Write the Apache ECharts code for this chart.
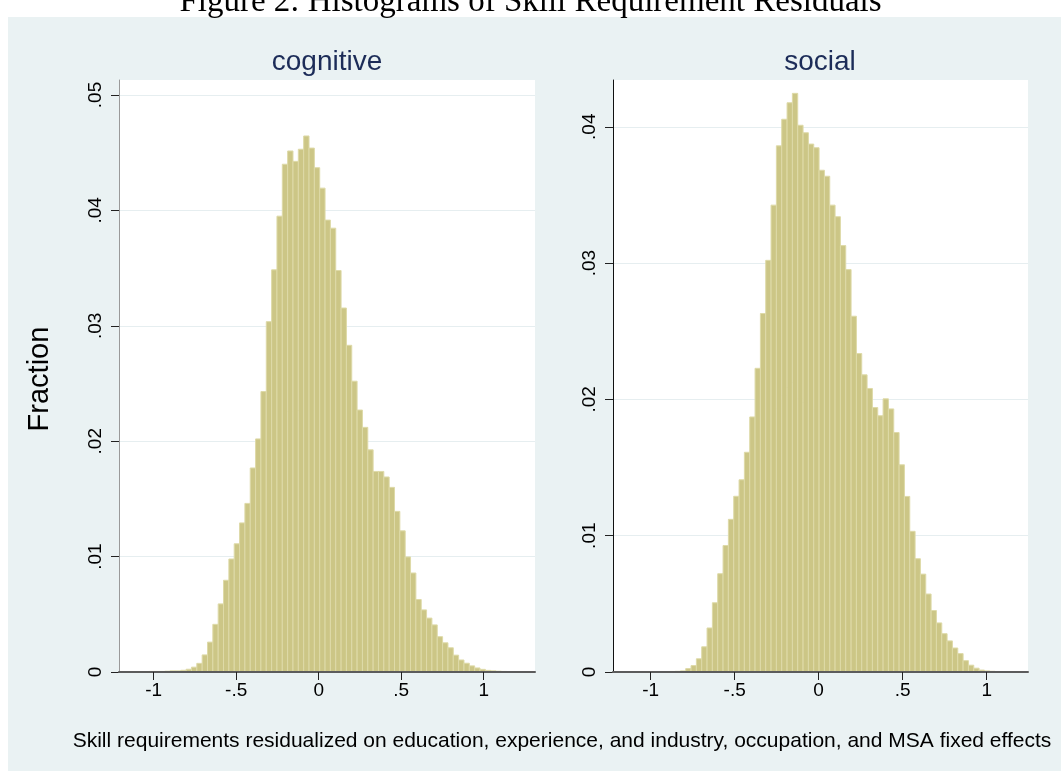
<!DOCTYPE html>
<html>
<head>
<meta charset="utf-8">
<script src="https://cdn.jsdelivr.net/npm/echarts@6/dist/echarts.min.js"></script>
<style>
  html, body { margin: 0; padding: 0; background: #fff; }
  #chart { width: 1061px; height: 771px; }
</style>
</head>
<body>
<div id="chart"></div>
<script>
// histogram bins: first edge and width for each panel
const cognitiveStart = -1.127;
const cognitiveWidth = 0.03238;
const socialStart = -1.1405;
const socialWidth = 0.03175;

// fractions, left to right
const cognitiveFraction = [
    0.00002, 0.00003, 0.00004, 0.00005,
    0.00005, 0.00005, 0.00007, 0.0001, 0.0001, 0.00015, 0.00024, 0.00042, 0.00075, 0.00148,
    0.00259, 0.00413, 0.0059, 0.00795, 0.00979, 0.01111, 0.01292, 0.01461, 0.01768, 0.0202,
    0.0243, 0.03036, 0.03485, 0.0395, 0.044, 0.04515, 0.04425, 0.0453, 0.04645, 0.0454,
    0.0437, 0.04193, 0.03916, 0.03846, 0.03479, 0.03154, 0.02831, 0.0252, 0.0227, 0.0212,
    0.01925, 0.01738, 0.01738, 0.0169, 0.016, 0.01392, 0.01223, 0.00997, 0.00858, 0.00628,
    0.00538, 0.00467, 0.00408, 0.00306, 0.00253, 0.0021, 0.00146, 0.00104, 0.00076, 0.00053,
    0.00035, 0.00023, 0.00014, 0.0001, 0.00007, 0.00005, 0.00004, 0.00003, 0.00002
];
const socialFraction = [
    0.00001, 0.00001, 0.00001, 0.00002, 0.00002, 0.00002, 0.00003, 0.00003, 0.00004, 0.00005,
    0.00008, 0.00025, 0.00047, 0.00097, 0.00185, 0.00323, 0.00508, 0.00721, 0.00928, 0.0112,
    0.01289, 0.0141, 0.01612, 0.01871, 0.02228, 0.0263, 0.0302, 0.03425, 0.0386, 0.04055,
    0.04176, 0.04245, 0.04011, 0.03956, 0.03873, 0.03846, 0.03681, 0.03637, 0.03425, 0.0334,
    0.03128, 0.02952, 0.0261, 0.02336, 0.0218, 0.0208, 0.0194, 0.0188, 0.02004, 0.0193,
    0.01757, 0.0152, 0.01288, 0.01032, 0.00831, 0.00718, 0.00572, 0.00451, 0.0036, 0.00281,
    0.00228, 0.00176, 0.00135, 0.00083, 0.0005, 0.00028, 0.00014, 0.00008, 0.00005, 0.00003,
    0.00002, 0.00002, 0.00001
];

const xTicks = [-1, -0.5, 0, 0.5, 1];
const cognitiveYTicks = [0, 0.01, 0.02, 0.03, 0.04, 0.05];
const socialYTicks = [0, 0.01, 0.02, 0.03, 0.04];
const panelTitles = ['cognitive', 'social'];

const barFill = '#ccc686';
const barEdge = '#dedaa8';
const font = "'Liberation Sans', Arial, sans-serif";

function toBins(start, width, values) {
    return values.map((v, i) => [start + i * width, start + (i + 1) * width, v]);
}

function tickText(v) {
    if (v === 0) return '0';
    return String(+v.toFixed(3)).replace('0.', '.');
}

function renderBar(params, api) {
    const lo = api.coord([api.value(0), 0]);
    const hi = api.coord([api.value(1), api.value(2)]);
    return {
        type: 'rect',
        shape: { x: lo[0], y: hi[1], width: hi[0] - lo[0], height: lo[1] - hi[1] },
        style: { fill: barFill, stroke: barEdge, lineWidth: 1 }
    };
}

function xAxisFor(idx, min, max) {
    return {
        gridIndex: idx,
        type: 'value',
        min: min,
        max: max,
        z: 5,
        axisLine: { show: true, onZero: false, lineStyle: { color: '#5c5c5c', width: 2 } },
        axisTick: { show: true, length: 8, customValues: xTicks, lineStyle: { color: '#222', width: 1 } },
        axisLabel: { customValues: xTicks, formatter: tickText, color: '#000', fontSize: 19, fontFamily: font, margin: 9 },
        splitLine: { show: false }
    };
}

function yAxisFor(idx, max, ticks, lineColor) {
    return {
        gridIndex: idx,
        type: 'value',
        min: 0,
        max: max,
        axisLine: { show: true, onZero: false, lineStyle: { color: lineColor, width: 1 } },
        axisTick: { show: true, length: 8, customValues: ticks, lineStyle: { color: '#222', width: 1 } },
        axisLabel: { customValues: ticks, formatter: tickText, rotate: 90, color: '#000', fontSize: 19, fontFamily: font, margin: 14 },
        splitLine: { show: true, lineStyle: { color: '#e6eef0', width: 1 } }
    };
}

const chart = echarts.init(document.getElementById('chart'), null, { renderer: 'canvas' });

chart.setOption({
    backgroundColor: '#fff',
    animation: false,
    title: [
        { text: panelTitles[0], left: 322, top: 43, textAlign: 'center',
          textStyle: { color: '#1c2c58', fontSize: 28, fontWeight: 'normal', fontFamily: font } },
        { text: panelTitles[1], left: 815, top: 43, textAlign: 'center',
          textStyle: { color: '#1c2c58', fontSize: 28, fontWeight: 'normal', fontFamily: font } }
    ],
    graphic: [
        { type: 'rect', z: -100, silent: true, shape: { x: 8, y: 17, width: 1053, height: 754 },
          style: { fill: '#eaf2f3' } },
        { type: 'text', left: 'center', top: -14, silent: true,
          style: { text: 'Figure 2: Histograms of Skill Requirement Residuals', fill: '#000',
                   font: "33px 'Liberation Serif', 'Times New Roman', serif" } },
        { type: 'text', x: 40, y: 379, rotation: Math.PI / 2, silent: true,
          style: { text: 'Fraction', fill: '#000', font: '29px ' + font, align: 'center', verticalAlign: 'middle' } },
        { type: 'text', x: 562, y: 741, silent: true,
          style: { text: 'Skill requirements residualized on education, experience, and industry, occupation, and MSA fixed effects',
                   fill: '#000', font: '21px ' + font, align: 'center', verticalAlign: 'middle' } }
    ],
    grid: [
        { left: 119, top: 80, width: 416, height: 592, show: true, backgroundColor: '#fff', borderWidth: 0 },
        { left: 613, top: 80, width: 415, height: 592, show: true, backgroundColor: '#fff', borderWidth: 0 }
    ],
    xAxis: [
        xAxisFor(0, -1.21, 1.311),
        xAxisFor(1, -1.224, 1.246)
    ],
    yAxis: [
        yAxisFor(0, 0.0513, cognitiveYTicks, '#9a9a9a'),
        yAxisFor(1, 0.04343, socialYTicks, '#111')
    ],
    series: [
        { type: 'custom', name: panelTitles[0], xAxisIndex: 0, yAxisIndex: 0, renderItem: renderBar, z: 1,
          encode: { x: [0, 1], y: 2 }, data: toBins(cognitiveStart, cognitiveWidth, cognitiveFraction) },
        { type: 'custom', name: panelTitles[1], xAxisIndex: 1, yAxisIndex: 1, renderItem: renderBar, z: 1,
          encode: { x: [0, 1], y: 2 }, data: toBins(socialStart, socialWidth, socialFraction) }
    ]
});
</script>
</body>
</html>
